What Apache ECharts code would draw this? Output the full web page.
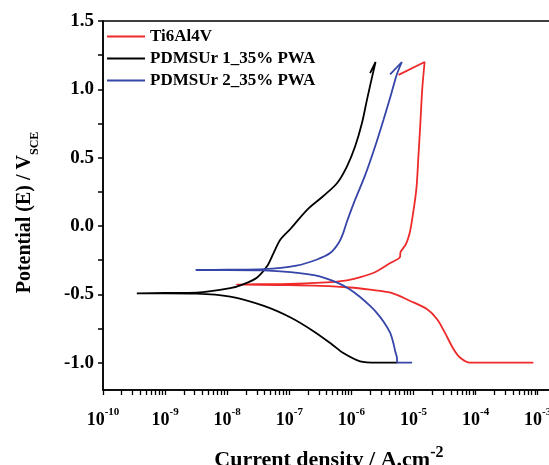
<!DOCTYPE html>
<html>
<head>
<meta charset="utf-8">
<script src="https://cdn.jsdelivr.net/npm/echarts@6/dist/echarts.min.js"></script>
<style>
  html, body { margin: 0; padding: 0; background: #fff; overflow: hidden; }
  #chart { width: 549px; height: 465px; }
</style>
</head>
<body>
<div id="chart"></div>
<script>
// ---- Data (current density in A/cm^2, potential in V vs SCE) ----
const seriesNames = ['Ti6Al4V', 'PDMSUr 1_35% PWA', 'PDMSUr 2_35% PWA'];

const tiCurrent = [8.5e-4, 8.1e-5, 5.6e-5, 4.4e-5, 3.2e-5, 2.4e-5, 1.66e-5, 8.9e-6, 4.3e-6, 2.0e-6, 9.5e-7, 3.2e-7, 1.0e-7, 1.4e-8,
  1.0e-7, 3.2e-7, 6.3e-7, 1.1e-6, 2.3e-6, 4.3e-6, 6.0e-6, 6.2e-6, 7.6e-6, 8.7e-6, 9.5e-6, 1.11e-5, 1.2e-5, 1.29e-5, 1.38e-5, 1.51e-5, 5.75e-6];
const tiPotential = [-1.0, -1.0, -0.962, -0.90, -0.78, -0.682, -0.609, -0.549, -0.488, -0.466, -0.45, -0.438, -0.432, -0.428,
  -0.423, -0.415, -0.405, -0.386, -0.342, -0.269, -0.23, -0.19, -0.13, -0.05, 0.047, 0.266, 0.51, 0.753, 0.996, 1.2, 1.106];

const p1Current = [5.5e-6, 2.6e-6, 1.38e-6, 7.4e-7, 5.0e-7, 2.45e-7, 1.05e-7, 3.9e-8, 1.12e-8, 3.2e-9, 1.0e-9, 3.5e-10,
  1.0e-9, 3.2e-9, 1.12e-8, 1.8e-8, 3.0e-8, 4.4e-8, 5.6e-8, 7.2e-8, 1.05e-7, 1.95e-7, 3.5e-7, 5.9e-7, 8.5e-7, 1.15e-6, 1.48e-6, 1.78e-6, 2.1e-6, 2.45e-6, 2.0e-6];
const p1Potential = [-1.0, -1.0, -0.99, -0.93, -0.87, -0.77, -0.67, -0.585, -0.517, -0.495, -0.493, -0.493,
  -0.49, -0.487, -0.455, -0.427, -0.378, -0.293, -0.196, -0.099, -0.02, 0.12, 0.218, 0.315, 0.437, 0.583, 0.753, 0.923, 1.069, 1.2, 1.118];

const p2Current = [9.5e-6, 5.5e-6, 5.4e-6, 5.1e-6, 4.7e-6, 4.2e-6, 3.3e-6, 2.5e-6, 2.0e-6, 1.38e-6, 9.5e-7, 6.3e-7, 4.0e-7, 2.5e-7, 1.05e-7, 3.9e-8, 1.0e-8, 3.1e-9,
  1.0e-8, 3.9e-8, 1.3e-7, 2.8e-7, 4.6e-7, 6.3e-7, 7.4e-7, 8.3e-7, 1.12e-6, 1.66e-6, 2.4e-6, 3.3e-6, 4.4e-6, 5.4e-6, 6.5e-6, 4.2e-6];
const p2Potential = [-1.0, -1.0, -0.96, -0.92, -0.85, -0.78, -0.70, -0.63, -0.585, -0.52, -0.465, -0.42, -0.385, -0.36, -0.338, -0.325, -0.322, -0.322,
  -0.32, -0.316, -0.29, -0.245, -0.196, -0.12, -0.05, 0.02, 0.18, 0.37, 0.58, 0.78, 0.97, 1.11, 1.2, 1.11];

// ---- Axis ticks ----
const xDecades = [-10, -9, -8, -7, -6, -5, -4, -3];
const yMajorTicks = [-1.0, -0.5, 0.0, 0.5, 1.0, 1.5];
const yAllTicks = [-1.0, -0.75, -0.5, -0.25, 0.0, 0.25, 0.5, 0.75, 1.0, 1.25, 1.5];
const xAllTicks = [];
xDecades.forEach(d => { for (let k = 1; k <= 9; k++) xAllTicks.push(d + Math.log10(k)); });

const colors = ['#ee2a2a', '#000000', '#3545a8'];
const FONT = '"Liberation Serif", "Times New Roman", serif';

function toPts(cur, pot) { return cur.map((c, i) => [Math.log10(c), pot[i]]); }
const allData = [toPts(tiCurrent, tiPotential), toPts(p1Current, p1Potential), toPts(p2Current, p2Potential)];

const chart = echarts.init(document.getElementById('chart'), null, { renderer: 'canvas' });
const option = {
  animation: false,
  backgroundColor: '#fff',
  grid: { left: 103, top: 21, height: 369, width: 465.75, outerBoundsMode: 'none', show: true, borderColor: '#000', borderWidth: 1.5, backgroundColor: 'transparent' },
  legend: {
    orient: 'vertical', left: 102, top: 23,
    icon: 'rect', itemWidth: 38, itemHeight: 2, itemGap: 5,
    textStyle: { fontFamily: FONT, fontWeight: 'bold', fontSize: 17, color: '#000', lineHeight: 16.5 },
    data: seriesNames
  },
  xAxis: {
    type: 'value', min: -10, max: -2.5,
    axisLine: { show: true, onZero: false, lineStyle: { color: '#000', width: 1.5 } },
    axisTick: { show: true, customValues: xAllTicks, length: 5, lineStyle: { color: '#000', width: 1.3 } },
    splitLine: { show: false },
    axisLabel: {
      customValues: xDecades, margin: 17,
      formatter: v => '{b|10}{s|' + Math.round(v) + '}',
      rich: {
        b: { fontFamily: FONT, fontWeight: 'bold', fontSize: 18, color: '#000', lineHeight: 22, verticalAlign: 'bottom' },
        s: { fontFamily: FONT, fontWeight: 'bold', fontSize: 11, color: '#000', lineHeight: 12, verticalAlign: 'top' }
      }
    },
    name: '{a|Current density / A.cm}{s|-2}',
    nameLocation: 'middle', nameGap: 47,
    nameTextStyle: {
      padding: [0, 14, 0, 0],
      rich: {
        a: { fontFamily: FONT, fontWeight: 'bold', fontSize: 22, color: '#000', lineHeight: 26, padding: [15, 0, 0, 0], verticalAlign: 'bottom' },
        s: { fontFamily: FONT, fontWeight: 'bold', fontSize: 16, color: '#000', lineHeight: 16, verticalAlign: 'top' }
      }
    }
  },
  yAxis: {
    type: 'value', min: -1.2, max: 1.5,
    axisLine: { show: true, onZero: false, lineStyle: { color: '#000', width: 1.5 } },
    axisTick: { show: true, customValues: yAllTicks, length: 5, lineStyle: { color: '#000', width: 1.5 } },
    splitLine: { show: false },
    axisLabel: {
      customValues: yMajorTicks, margin: 9,
      formatter: v => v.toFixed(1),
      fontFamily: FONT, fontWeight: 'bold', fontSize: 19, color: '#000'
    },
    name: '{a|Potential (E) / V}{s|SCE}',
    nameLocation: 'middle', nameRotate: 90, nameGap: 64,
    nameTextStyle: {
      padding: [0, 14, 0, 0],
      rich: {
        a: { fontFamily: FONT, fontWeight: 'bold', fontSize: 20, color: '#000', lineHeight: 24, verticalAlign: 'top' },
        s: { fontFamily: FONT, fontWeight: 'bold', fontSize: 12, color: '#000', lineHeight: 12, padding: [14, 0, 0, 0], verticalAlign: 'top' }
      }
    }
  },
  series: seriesNames.map((n, i) => ({
    name: n, type: 'line', data: allData[i],
    symbol: 'none', smooth: 0.3, lineStyle: { color: colors[i], width: 1.8 }, itemStyle: { color: colors[i] }
  }))
};
chart.setOption(option);
</script>
</body>
</html>
